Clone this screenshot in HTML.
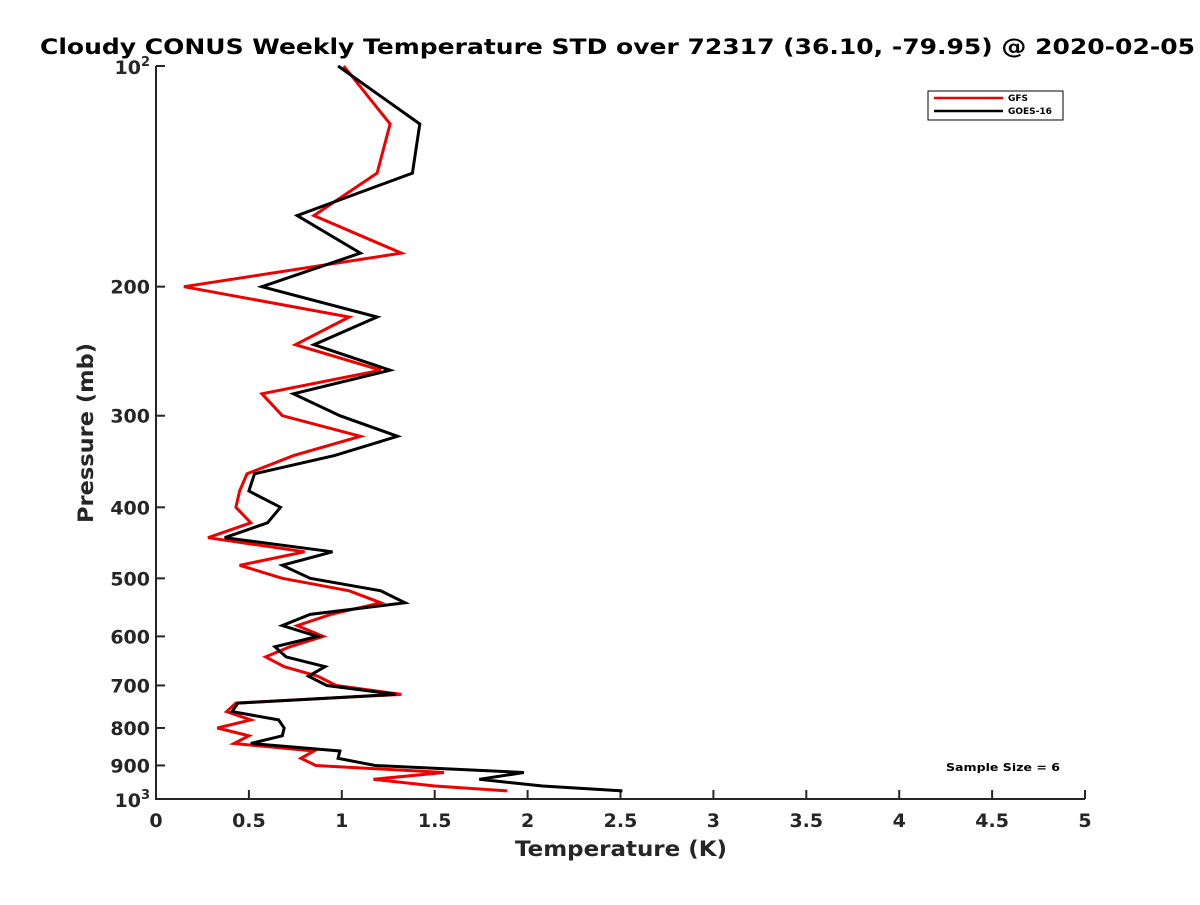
<!DOCTYPE html>
<html><head><meta charset="utf-8"><style>
body{margin:0;background:#fff}
svg text{font-family:"DejaVu Sans","Liberation Sans",sans-serif;font-weight:bold;fill:#262626}
</style></head><body>
<svg id="chart" width="1200" height="900" xmlns="http://www.w3.org/2000/svg">
<rect width="1200" height="900" fill="#fff"/>
<text x="40" y="54" font-size="21" textLength="1155" lengthAdjust="spacingAndGlyphs" style="fill:#000">Cloudy CONUS Weekly Temperature STD over 72317 (36.10, -79.95) @ 2020-02-05</text>
<g id="axes"></g>
<g id="series"></g>
<text x="515" y="856" font-size="21" textLength="212" lengthAdjust="spacingAndGlyphs">Temperature (K)</text>
<text transform="translate(93,523) rotate(-90)" font-size="21" textLength="180" lengthAdjust="spacingAndGlyphs">Pressure (mb)</text>
<g>
<rect x="928" y="91" width="135" height="29" fill="#fff" stroke="#000" stroke-width="1"/>
<line x1="934" y1="98" x2="1003" y2="98" stroke="#e00" stroke-width="2.5"/>
<text x="1008" y="101" font-size="9" style="fill:#000">GFS</text>
<line x1="934" y1="111" x2="1003" y2="111" stroke="#000" stroke-width="2.5"/>
<text x="1008" y="114" font-size="9" style="fill:#000">GOES-16</text>
</g>
<text x="946" y="771" font-size="11" textLength="114" lengthAdjust="spacingAndGlyphs" style="fill:#000">Sample Size = 6</text>
</svg>
<script>
const pressures = [100,120,140,160,180,200,220,240,260,280,300,320,340,360,380,400,420,440,460,480,500,520,540,560,580,600,620,640,660,680,700,720,740,760,780,800,820,840,860,880,900,920,940,960,975];
const gfsStd = [1.01,1.26,1.19,0.85,1.32,0.15,1.04,0.75,1.21,0.57,0.68,1.10,0.74,0.49,0.45,0.43,0.51,0.28,0.80,0.45,0.68,1.04,1.21,0.94,0.76,0.90,0.72,0.59,0.69,0.87,0.97,1.32,0.43,0.38,0.51,0.33,0.50,0.42,0.85,0.78,0.86,1.55,1.17,1.50,1.89];
const goesStd = [0.98,1.42,1.38,0.76,1.10,0.57,1.19,0.85,1.26,0.74,0.99,1.30,0.96,0.53,0.50,0.67,0.60,0.37,0.95,0.68,0.83,1.21,1.34,0.83,0.68,0.87,0.64,0.70,0.91,0.82,0.92,1.29,0.44,0.41,0.66,0.69,0.68,0.51,0.99,0.98,1.18,1.98,1.74,2.08,2.51];
const xTicks = [0,0.5,1,1.5,2,2.5,3,3.5,4,4.5,5];
const yTicks = [200,300,400,500,600,700,800,900];
const X0=156,X1=1085,Y0=66,Y1=799;
const xs = v => X0 + (v/5)*(X1-X0);
const ys = p => Y0 + Math.log10(p/100)*(Y1-Y0);
const NS="http://www.w3.org/2000/svg";
const axes=document.getElementById('axes');
function mk(tag,attrs,parent){const e=document.createElementNS(NS,tag);for(const k in attrs)e.setAttribute(k,attrs[k]);parent.appendChild(e);return e;}
const ax=mk('path',{d:`M${X0},${Y0}V${Y1}H${X1}`,fill:'none',stroke:'#262626','stroke-width':2},axes);


xTicks.forEach(t=>{
  const x=xs(t);
  mk('line',{x1:x,y1:Y1,x2:x,y2:Y1-9,stroke:'#262626','stroke-width':2},axes);
  const tx=mk('text',{x:x,y:Y1+28,'text-anchor':'middle','font-size':19},axes);
  tx.textContent=String(t);
  
  
});
[100,1000].concat(yTicks).forEach(p=>{
  const y=ys(p);
  mk('line',{x1:X0,y1:y,x2:X0+9,y2:y,stroke:'#262626','stroke-width':2},axes);
});
yTicks.forEach(p=>{
  const tx=mk('text',{x:X0-6,y:ys(p)+7,'text-anchor':'end','font-size':19},axes);
  tx.textContent=String(p);
  
  
});
[[100,'2'],[1000,'3']].forEach(([p,e])=>{
  const tx=mk('text',{x:X0-6,y:ys(p)+8,'text-anchor':'end','font-size':19},axes);
  tx.innerHTML='10<tspan dy="-8" font-size="13">'+e+'</tspan>';
  
  
});
const g=document.getElementById('series');
[[gfsStd,'#e00','gfs-line'],[goesStd,'#000','goes16-line']].forEach(([vals,c,n])=>{
  const pts=vals.map((v,i)=>xs(v).toFixed(1)+','+ys(pressures[i]).toFixed(1)).join(' ');
  const pl=mk('polyline',{points:pts,fill:'none',stroke:c,'stroke-width':3,'stroke-linejoin':'miter'},g);
  
  
});
</script>
</body></html>
